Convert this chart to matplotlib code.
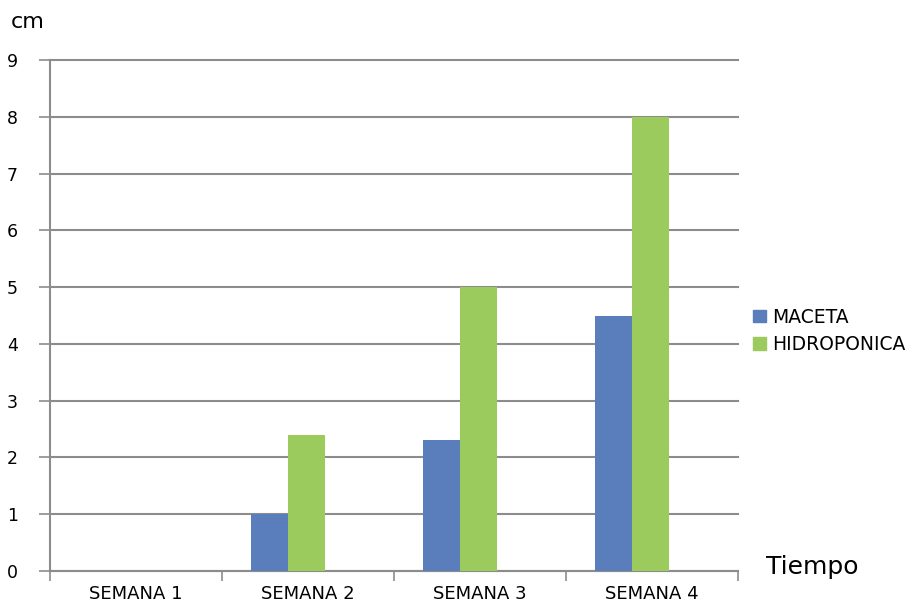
import matplotlib
matplotlib.use("Agg")
import matplotlib.pyplot as plt
import numpy as np
from matplotlib.patches import Patch

categories = ["SEMANA 1", "SEMANA 2", "SEMANA 3", "SEMANA 4"]
maceta = [0, 1, 2.3, 4.5]
hidroponica = [0, 2.4, 5, 8]
series_names = ["MACETA", "HIDROPONICA"]
yticks = [0, 1, 2, 3, 4, 5, 6, 7, 8, 9]

blue = "#5A7EBB"
green = "#9BCB5C"
grid = "#8C8C8C"

plt.rcParams['font.family'] = ['DejaVu Sans']

fig = plt.figure(figsize=(9.15, 6.06), dpi=100)
ax = fig.add_axes([50/915, 1-571/606, (738-50)/915, (571-60)/606])

x = np.arange(len(categories))
w = 0.217
ax.bar(x - 0.334, maceta, width=w, align='edge', color=blue, zorder=3)
ax.bar(x - 0.117, hidroponica, width=w, align='edge', color=green, zorder=3)

ax.set_xlim(-0.5, 3.5)
ax.set_ylim(0, 9)
ax.set_yticks(yticks)
ax.set_yticklabels([str(t) for t in yticks], fontsize=12.5)
ax.set_xticks(x)
ax.set_xticklabels(categories, fontsize=13)
ax.set_xticks(np.arange(-0.5, 4.0, 1.0), minor=True)
ax.tick_params(axis='x', which='major', length=0, pad=10)
ax.tick_params(axis='x', which='minor', length=7, color=grid, width=1.2)
ax.tick_params(axis='y', length=8, color=grid, width=1.2, pad=15)

for s in ['top', 'right']:
    ax.spines[s].set_visible(False)
for s in ['left', 'bottom']:
    ax.spines[s].set_color(grid)
    ax.spines[s].set_linewidth(1.5)

ax.yaxis.grid(True, color=grid, linewidth=1.5, zorder=0)
ax.set_axisbelow(True)
for gl in ax.get_ygridlines():
    gl.set_clip_on(False)

fig.text(11/915, 1-22/606, "cm", fontsize=16, va='center', ha='left')
fig.text(766/915, 1-567/606, "Tiempo", fontsize=18, va='center', ha='left')

handles = [Patch(color=blue), Patch(color=green)]
fig.legend(handles, series_names, loc='center left', bbox_to_anchor=(744/915, 1-331/606),
           frameon=False, fontsize=13.5, handlelength=0.65, handleheight=0.65,
           handletextpad=0.35, labelspacing=0.45, borderpad=0)

fig.savefig("out.png", dpi=100, facecolor='white')
